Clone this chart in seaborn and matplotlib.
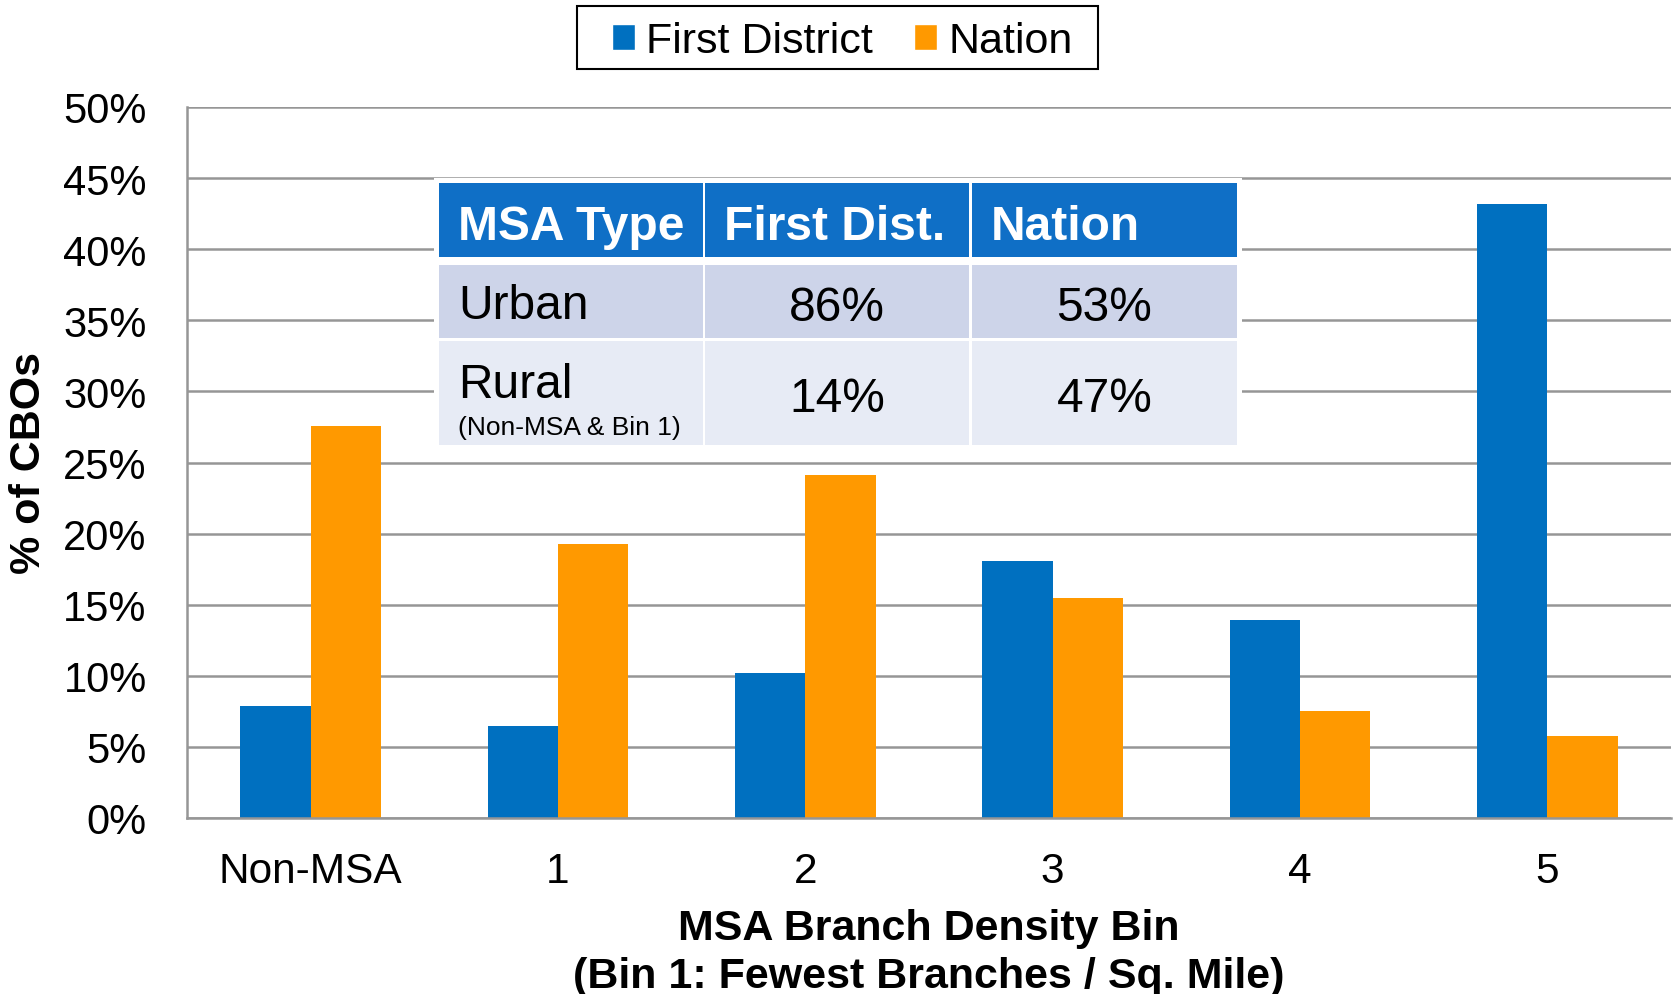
import pandas as pd
import numpy as np
import matplotlib.pyplot as plt
import seaborn as sns
from matplotlib.patches import Patch, Rectangle
from matplotlib.ticker import FixedLocator

# data
bins = ["Non-MSA", "1", "2", "3", "4", "5"]
first_district = [7.9, 6.5, 10.2, 18.1, 13.9, 43.2]
nation = [27.6, 19.3, 24.1, 15.5, 7.5, 5.8]
series_names = ["First District", "Nation"]

# inset table
table_header = ["MSA Type", "First Dist.", "Nation"]
table_rows = ["Urban", "Rural"]
table_sub = ["", "(Non-MSA & Bin 1)"]
table_fd = ["86%", "14%"]
table_nation = ["53%", "47%"]

blue = "#0070C0"
orange = "#FF9900"
grid_col = "#969696"

df = pd.DataFrame({
    "bin": bins * 2,
    "pct": first_district + nation,
    "series": [series_names[0]] * len(bins) + [series_names[1]] * len(bins),
})

sns.set_style("white")
plt.rcParams["font.family"] = ["Liberation Sans", "DejaVu Sans"]
plt.rcParams["text.color"] = "black"
plt.rcParams["axes.labelcolor"] = "black"

W, H = 1675, 995
fig = plt.figure(figsize=(W / 100, H / 100), dpi=100)
ax = fig.add_axes([187 / W, 1 - 819 / H, (1671 - 187) / W, (819 - 108) / H])

sns.barplot(data=df, x="bin", y="pct", hue="series", order=bins,
            hue_order=series_names, palette=[blue, orange], width=0.57,
            gap=0, saturation=1, linewidth=0, legend=False, ax=ax)

ax.set_xlim(-0.5, len(bins) - 0.5)
ax.set_ylim(0, 50)
ax.set_yticks(np.arange(0, 51, 5))
ax.set_yticklabels([f"{v}%" for v in range(0, 51, 5)], fontsize=30)
ax.set_xticks(range(len(bins)))
ax.set_xticklabels(bins, fontsize=30.5)
ax.xaxis.set_minor_locator(FixedLocator(np.arange(-0.5, len(bins), 1.0)))
ax.tick_params(axis="x", which="major", length=0, pad=24, labelcolor="black")
ax.tick_params(axis="x", which="minor", length=8, width=1.5, color=grid_col)
ax.tick_params(axis="y", length=5, width=1.5, color=grid_col, pad=24,
               labelcolor="black")

ax.set_axisbelow(True)
ax.yaxis.grid(True, color=grid_col, linewidth=1.8)
ax.xaxis.grid(False)
for s in ["top", "right"]:
    ax.spines[s].set_visible(False)
for s in ["left", "bottom"]:
    ax.spines[s].set_color(grid_col)
    ax.spines[s].set_linewidth(1.8)

ax.set_ylabel("% of CBOs", fontsize=31, fontweight="bold")
ax.yaxis.set_label_coords(-0.093, 0.5)
ax.set_xlabel("MSA Branch Density Bin\n(Bin 1: Fewest Branches / Sq. Mile)",
              fontsize=31, fontweight="bold", labelpad=12, linespacing=1.25)

# legend: frame drawn separately so it can be padded like the original
handles = [Patch(facecolor=blue), Patch(facecolor=orange)]
leg = fig.legend(handles, series_names, loc="center",
                 bbox_to_anchor=(842 / W, 1 - 42 / H), ncol=2, fontsize=31,
                 frameon=False, handlelength=0.55, handleheight=0.55,
                 handletextpad=0.25, columnspacing=0.95)
fig.add_artist(Rectangle((577 / W, 1 - 70 / H), (1098 - 577) / W, 63 / H,
                         transform=fig.transFigure, facecolor="none",
                         edgecolor="black", linewidth=1.5))


# inset table, in figure pixels
def px_rect(x0, y0, x1, y1, color, z):
    fig.add_artist(Rectangle((x0 / W, 1 - y1 / H), (x1 - x0) / W, (y1 - y0) / H,
                             transform=fig.transFigure, facecolor=color,
                             edgecolor="none", zorder=z))


def px_text(x, y, s, **kw):
    fig.text(x / W, 1 - y / H, s, zorder=6, **kw)


cols = [(439, 703), (705, 969), (972, 1237)]
rows = [(184, 258), (266, 339), (342, 446)]
px_rect(434, 179, 1242, 451, "white", 4)

for (x0, x1), label in zip(cols, table_header):
    px_rect(x0, rows[0][0], x1, rows[0][1], "#0F6FC6", 5)
    px_text(x0 + 19, (rows[0][0] + rows[0][1]) / 2 + 6, label, color="white",
            fontsize=34.5, fontweight="bold", va="center", ha="left")

row_fill = ["#CDD4E9", "#E7EBF5"]
for i, (y0, y1) in enumerate(rows[1:]):
    for x0, x1 in cols:
        px_rect(x0, y0, x1, y1, row_fill[i], 5)
    if table_sub[i]:
        px_text(cols[0][0] + 19, y0 + 43, table_rows[i], fontsize=34.5,
                va="center", ha="left")
        px_text(cols[0][0] + 19, y0 + 86, table_sub[i], fontsize=19,
                va="center", ha="left")
    else:
        px_text(cols[0][0] + 19, (y0 + y1) / 2 + 4, table_rows[i], fontsize=34.5,
                va="center", ha="left")
    px_text((cols[1][0] + cols[1][1]) / 2, (y0 + y1) / 2 + 6, table_fd[i],
            fontsize=34.5, va="center", ha="center")
    px_text((cols[2][0] + cols[2][1]) / 2, (y0 + y1) / 2 + 6, table_nation[i],
            fontsize=34.5, va="center", ha="center")

fig.savefig("out.png", dpi=100)
